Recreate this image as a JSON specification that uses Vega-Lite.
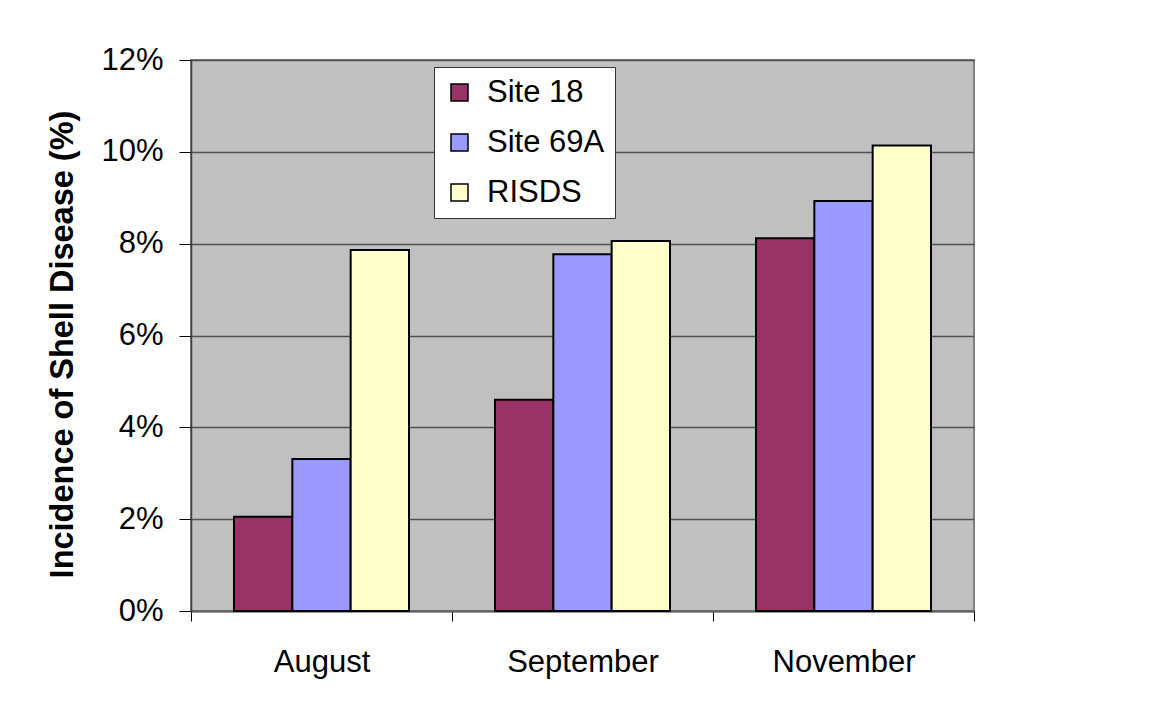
{
  "$schema": "https://vega.github.io/schema/vega-lite/v6.json",
  "width": 783,
  "height": 551,
  "autosize": "none",
  "padding": {"left": 191, "top": 60, "right": 200, "bottom": 97},
  "background": "white",
  "config": {
    "font": "Liberation Sans",
    "view": {"fill": "#C0C0C0", "stroke": "#808080", "strokeWidth": 2}
  },
  "data": {
    "values": [
      {"month": "August", "site": "Site 18", "value": 0.0205},
      {"month": "August", "site": "Site 69A", "value": 0.0331},
      {"month": "August", "site": "RISDS", "value": 0.0786},
      {"month": "September", "site": "Site 18", "value": 0.046},
      {"month": "September", "site": "Site 69A", "value": 0.0777},
      {"month": "September", "site": "RISDS", "value": 0.0806},
      {"month": "November", "site": "Site 18", "value": 0.0812},
      {"month": "November", "site": "Site 69A", "value": 0.0893},
      {"month": "November", "site": "RISDS", "value": 0.1014}
    ]
  },
  "mark": {"type": "bar", "stroke": "black", "strokeWidth": 2},
  "encoding": {
    "x": {
      "field": "month",
      "type": "nominal",
      "sort": ["August", "September", "November"],
      "scale": {"paddingInner": 0, "paddingOuter": 0},
      "axis": {
        "title": null,
        "labelAngle": 0,
        "labelFontSize": 31,
        "labelColor": "black",
        "labelPadding": 26,
        "tickBand": "extent",
        "tickSize": 10,
        "tickColor": "black",
        "domainColor": "#606060",
        "domainWidth": 2,
        "grid": false
      }
    },
    "xOffset": {
      "field": "site",
      "type": "nominal",
      "sort": ["Site 18", "Site 69A", "RISDS"],
      "scale": {"paddingInner": 0, "paddingOuter": 0.737}
    },
    "y": {
      "field": "value",
      "type": "quantitative",
      "scale": {"domain": [0, 0.12], "nice": false},
      "axis": {
        "values": [0, 0.02, 0.04, 0.06, 0.08, 0.1, 0.12],
        "format": ".0%",
        "labelFontSize": 31,
        "labelColor": "black",
        "labelPadding": 16,
        "tickSize": 12,
        "tickColor": "black",
        "domainColor": "#404040",
        "domainWidth": 1.5,
        "grid": true,
        "gridColor": "#505050",
        "gridWidth": 1.5,
        "title": "Incidence of Shell Disease (%)",
        "titleFontSize": 32.5,
        "titleFontWeight": "bold",
        "titleColor": "black",
        "titleX": -129,
        "titleY": 284,
        "titleAngle": 270,
        "titleAlign": "center",
        "titleBaseline": "middle"
      }
    },
    "fill": {
      "field": "site",
      "type": "nominal",
      "sort": ["Site 18", "Site 69A", "RISDS"],
      "scale": {"domain": ["Site 18", "Site 69A", "RISDS"], "range": ["#993366", "#9999FF", "#FFFFCC"]},
      "legend": {
        "title": null,
        "orient": "none",
        "legendX": 243,
        "legendY": 7,
        "fillColor": "white",
        "strokeColor": "#333333",
        "padding": 10,
        "symbolType": "square",
        "symbolSize": 289,
        "symbolStrokeColor": "black",
        "symbolStrokeWidth": 1.5,
        "labelFontSize": 31,
        "labelColor": "black",
        "labelOffset": 12,
        "rowPadding": 18,
        "labelLimit": 300
      }
    }
  }
}
